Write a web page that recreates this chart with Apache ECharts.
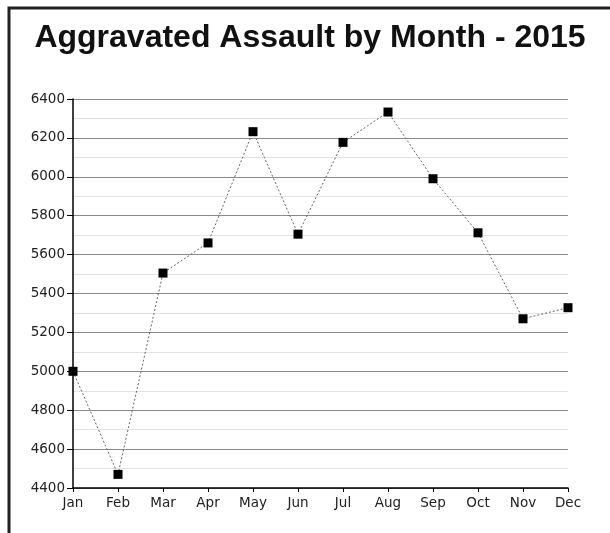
<!DOCTYPE html>
<html>
<head>
<meta charset="utf-8">
<script src="https://cdn.jsdelivr.net/npm/echarts@6/dist/echarts.min.js"></script>
<style>
html,body{margin:0;padding:0;background:#fff;}
#chart{width:610px;height:533px;}
</style>
</head>
<body>
<div id="chart"></div>
<script>
var titleText = 'Aggravated Assault by Month - 2015';
var months = ['Jan','Feb','Mar','Apr','May','Jun','Jul','Aug','Sep','Oct','Nov','Dec'];
var assaults = [5000, 4470, 5505, 5660, 6232, 5705, 6177, 6333, 5990, 5712, 5270, 5327];
var yMin = 4400, yMax = 6400, yStep = 200;

var chart = echarts.init(document.getElementById('chart'));
var labelFont = {fontFamily: 'DejaVu Sans', fontSize: 13.5, color: '#222'};
chart.setOption({
  animation: false,
  backgroundColor: '#fff',
  title: {
    text: titleText,
    left: 305,
    textAlign: 'center',
    top: 17,
    textStyle: {fontFamily: 'Liberation Sans', fontWeight: 'bold', fontSize: 32, color: '#111'}
  },
  graphic: [{
    type: 'rect',
    shape: {x: 9, y: 8, width: 700, height: 700},
    style: {fill: 'none', stroke: '#222', lineWidth: 3},
    silent: true
  }],
  grid: {left: 73, right: 42, top: 99, bottom: 45, containLabel: false},
  xAxis: {
    type: 'category',
    data: months,
    boundaryGap: false,
    axisLine: {lineStyle: {color: '#000', width: 1.5}},
    axisTick: {show: true, length: 4, inside: false, lineStyle: {color: '#000'}},
    axisLabel: Object.assign({margin: 8}, labelFont),
    splitLine: {show: false}
  },
  yAxis: {
    type: 'value',
    min: yMin, max: yMax, interval: yStep,
    axisLine: {show: true, lineStyle: {color: '#000', width: 1.5}},
    axisTick: {show: true, length: 6, lineStyle: {color: '#000'}},
    axisLabel: Object.assign({margin: 8, formatter: function (v) { return String(v); }}, labelFont),
    splitLine: {show: true, lineStyle: {color: '#8a8a8a', width: 1}},
    minorTick: {show: false, splitNumber: 2},
    minorSplitLine: {show: true, lineStyle: {color: '#e3e3e3', width: 1}}
  },
  series: [{
    type: 'line',
    data: assaults,
    symbol: 'rect',
    symbolSize: 9,
    itemStyle: {color: '#000'},
    lineStyle: {color: '#666', width: 1, type: [2, 2]},
    z: 3
  }]
});
</script>
</body>
</html>
